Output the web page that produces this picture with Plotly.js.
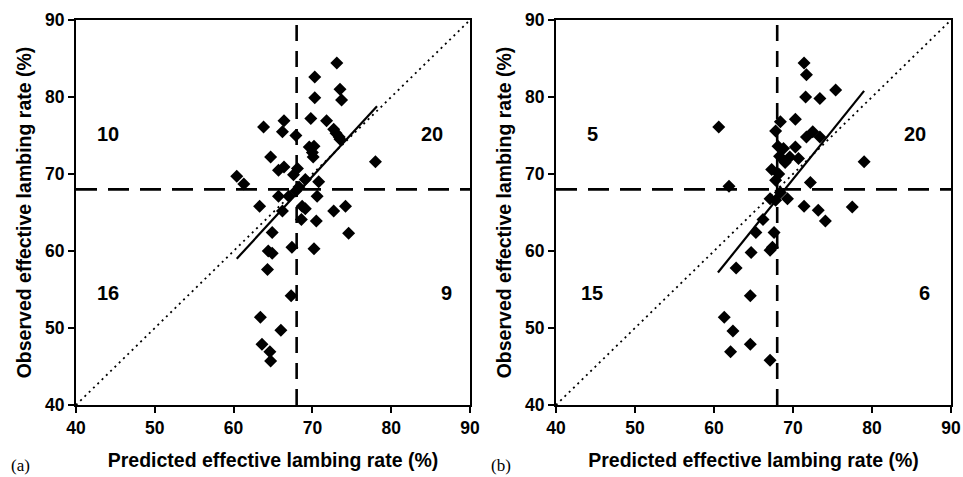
<!DOCTYPE html>
<html>
<head>
<meta charset="utf-8">
<script src="https://cdn.plot.ly/plotly-3.0.1.min.js"></script>
<style>html,body{margin:0;padding:0;background:#fff;}#chart{width:963px;height:477px;}</style>
</head>
<body>
<div id="chart"></div>
<script>
// ---- Data ----
const leftPredicted = [
  // upper-left
  66.4, 63.8, 66.2, 64.7, 65.7, 66.4, 67.6, 60.4, 61.3, 67.9,
  // upper-right
  73.1, 70.3, 73.5, 73.7, 70.3, 69.8, 71.8, 73.0, 73.4, 72.7,
  69.6, 70.2, 70.0, 70.1, 68.1, 69.1, 70.8, 78.0, 68.3, 73.5,
  // lower-left
  65.7, 67.0, 63.3, 66.2, 64.9, 64.4, 64.9, 67.4, 64.3, 67.3,
  63.4, 66.0, 63.6, 64.6, 64.7, 67.9,
  // lower-right
  70.6, 68.7, 69.1, 72.7, 74.2, 68.6, 70.5, 74.6, 70.2
];
const leftObserved = [
  76.9, 76.1, 75.5, 72.2, 70.5, 70.9, 69.9, 69.7, 68.7, 75.0,
  84.4, 82.6, 81.0, 79.6, 79.9, 77.2, 76.9, 75.3, 74.8, 75.8,
  73.5, 73.6, 72.8, 72.2, 70.7, 69.3, 69.0, 71.6, 68.3, 74.5,
  67.1, 67.1, 65.8, 65.2, 62.4, 60.0, 59.7, 60.5, 57.6, 54.2,
  51.4, 49.7, 47.9, 46.9, 45.7, 67.8,
  67.1, 65.8, 65.5, 65.2, 65.8, 64.1, 63.9, 62.3, 60.3
];
const rightPredicted = [
  // upper-left
  60.6, 67.8, 67.3, 67.8, 61.9,
  // upper-right
  71.4, 71.7, 71.6, 73.4, 75.4, 68.4, 70.3, 72.5, 71.7, 73.4,
  68.1, 68.8, 70.3, 68.3, 69.6, 70.7, 68.2, 79.0, 72.2, 69.0,
  // lower-left
  67.1, 67.8, 66.2, 65.3, 67.6, 64.7, 67.1, 67.4, 62.8, 64.6,
  61.3, 62.4, 64.6, 62.1, 67.1,
  // lower-right
  69.3, 71.4, 73.2, 74.1, 77.5, 68.4
];
const rightObserved = [
  76.1, 75.6, 70.6, 69.2, 68.4,
  84.4, 82.9, 80.0, 79.8, 80.9, 76.8, 77.1, 75.5, 74.8, 74.8,
  73.6, 73.3, 73.5, 72.3, 72.2, 72.0, 70.0, 71.6, 68.9, 71.5,
  66.8, 66.6, 64.1, 62.4, 62.4, 59.8, 60.1, 60.5, 57.8, 54.2,
  51.4, 49.6, 47.9, 46.9, 45.8,
  66.8, 65.8, 65.3, 63.9, 65.7, 67.6
];
const leftFitX = [60.4, 78.2];
const leftFitY = [59.0, 78.8];
const rightFitX = [60.5, 79.0];
const rightFitY = [57.2, 80.8];
const identityLine = [40, 90];
const threshold = 68;
const axisRange = [40, 90];
const tickValues = [40, 50, 60, 70, 80, 90];
const quadrantLabels = ["upper-left", "upper-right", "lower-left", "lower-right"];
const leftCounts = ["10", "20", "16", "9"];
const rightCounts = ["5", "20", "15", "6"];
const panelLabels = ["(a)", "(b)"];

// ---- Build traces ----
function panelTraces(px, py, fx, fy, xa, ya) {
  return [
    {x: identityLine, y: identityLine, xaxis: xa, yaxis: ya, mode: 'lines',
     line: {color: '#000', width: 1.8, dash: '2px,4px'}, hoverinfo: 'skip'},
    {x: axisRange, y: [threshold, threshold], xaxis: xa, yaxis: ya, mode: 'lines',
     line: {color: '#000', width: 2.8, dash: '21px,11px'}, hoverinfo: 'skip'},
    {x: [threshold, threshold], y: axisRange, xaxis: xa, yaxis: ya, mode: 'lines',
     line: {color: '#000', width: 2.6, dash: '16px,10px'}, hoverinfo: 'skip'},
    {x: fx, y: fy, xaxis: xa, yaxis: ya, mode: 'lines',
     line: {color: '#000', width: 2.2}, hoverinfo: 'skip'},
    {x: px, y: py, xaxis: xa, yaxis: ya, mode: 'markers', type: 'scatter',
     marker: {symbol: 'diamond', size: 10, color: '#000', line: {width: 0}}}
  ];
}
const data = [].concat(
  panelTraces(leftPredicted, leftObserved, leftFitX, leftFitY, 'x', 'y'),
  panelTraces(rightPredicted, rightObserved, rightFitX, rightFitY, 'x2', 'y2')
);

const FONT = 'Liberation Sans, Arial, sans-serif';
const tickFont = {family: FONT, size: 17.5, color: '#000', weight: 'bold'};
const titleFont = {family: FONT, size: 19.5, color: '#000', weight: 'bold'};
function axisCfg(domain, anchor, titleText, standoff) {
  return {
    domain: domain, anchor: anchor, range: axisRange, tickvals: tickValues,
    showgrid: false, zeroline: false, showline: true, linecolor: '#000', linewidth: 2,
    mirror: true, ticks: 'outside', ticklen: 6, tickwidth: 2, tickcolor: '#000',
    tickfont: tickFont, fixedrange: true,
    title: {text: titleText, font: titleFont, standoff: standoff}
  };
}

// Quadrant count annotations positions (data coords)
const countX = {left: [44.1, 85.2, 44.1, 87.0], right: [44.6, 85.4, 44.6, 86.7]};
const countY = [75.2, 75.2, 54.6, 54.6];
const annotations = [];
const countFont = {family: FONT, size: 20, color: '#000', weight: 'bold'};
leftCounts.forEach((c, i) => annotations.push({
  x: countX.left[i], y: countY[i], xref: 'x', yref: 'y', text: c, showarrow: false, font: countFont}));
rightCounts.forEach((c, i) => annotations.push({
  x: countX.right[i], y: countY[i], xref: 'x2', yref: 'y2', text: c, showarrow: false, font: countFont}));
const serif = {family: 'Liberation Serif, Times New Roman, serif', size: 17, color: '#000'};
annotations.push({x: 9/963, y: 1 - 465/477, xref: 'paper', yref: 'paper', xanchor: 'left', yanchor: 'middle',
  text: panelLabels[0], showarrow: false, font: serif});
annotations.push({x: 489/963, y: 1 - 465/477, xref: 'paper', yref: 'paper', xanchor: 'left', yanchor: 'middle',
  text: panelLabels[1], showarrow: false, font: serif});

const yDom = [1 - 405/477, 1 - 20/477];
const layout = {
  width: 963, height: 477,
  margin: {l: 0, r: 0, t: 0, b: 0, pad: 0},
  paper_bgcolor: '#fff', plot_bgcolor: '#fff',
  showlegend: false,
  xaxis: axisCfg([76/963, 470/963], 'y', 'Predicted effective lambing rate (%)', 16),
  yaxis: axisCfg(yDom, 'x', 'Observed effective lambing rate (%)', 8),
  xaxis2: axisCfg([556/963, 951/963], 'y2', 'Predicted effective lambing rate (%)', 16),
  yaxis2: axisCfg(yDom, 'x2', 'Observed effective lambing rate (%)', 8),
  annotations: annotations
};

Plotly.newPlot('chart', data, layout, {staticPlot: true});
</script>
</body>
</html>
